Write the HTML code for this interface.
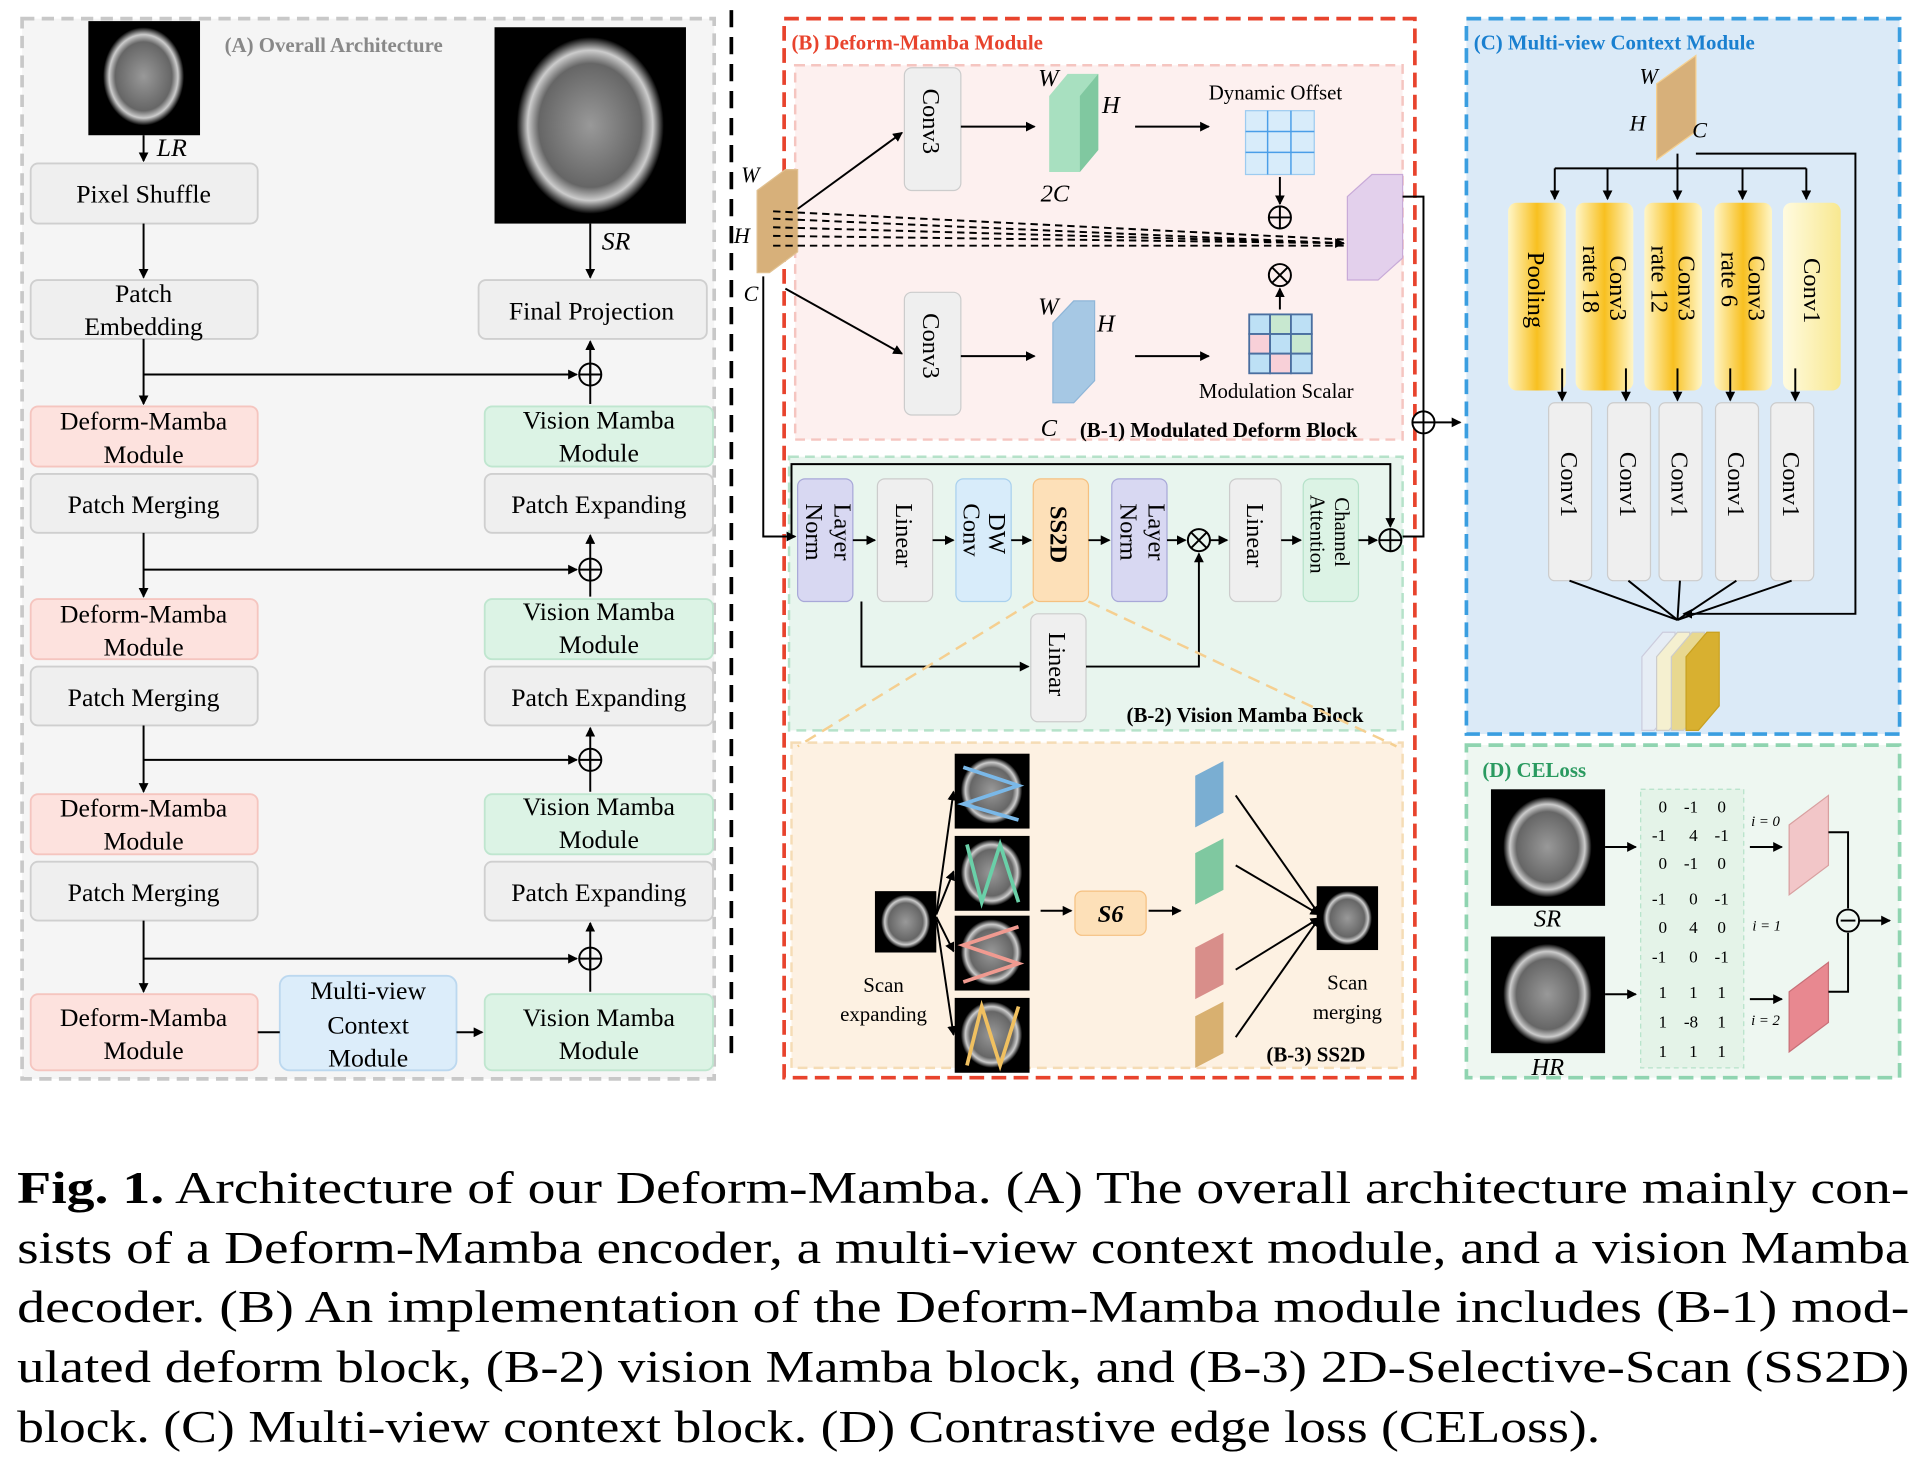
<!DOCTYPE html>
<html><head><meta charset="utf-8"><style>
html,body{margin:0;padding:0;background:#fff}
svg{display:block}
text{font-family:"Liberation Serif",serif}
</style></head><body>
<svg width="1918" height="1462" viewBox="0 0 1563 1191" xmlns="http://www.w3.org/2000/svg">
<defs>
<marker id="a" markerWidth="8" markerHeight="8" refX="7" refY="4" orient="auto" markerUnits="userSpaceOnUse"><path d="M0,0 L8,4 L0,8 z" fill="#000"/></marker>
<radialGradient id="br" cx="50%" cy="50%" r="50%"><stop offset="0" stop-color="#999"/><stop offset="0.7" stop-color="#666"/><stop offset="0.85" stop-color="#ccc"/><stop offset="1" stop-color="#000"/></radialGradient>
<linearGradient id="yg" x1="0" y1="0" x2="1" y2="0"><stop offset="0" stop-color="#fff6c8"/><stop offset="0.5" stop-color="#f8c020"/><stop offset="1" stop-color="#fff6c8"/></linearGradient>
<linearGradient id="yg2" x1="0" y1="0" x2="1" y2="0"><stop offset="0" stop-color="#fffbe0"/><stop offset="1" stop-color="#f8e890"/></linearGradient>
</defs>

<!-- Panel A -->
<rect x="18" y="15" width="564" height="864" fill="#f5f5f5" stroke="#c8c8c8" stroke-width="3" stroke-dasharray="10,6"/>
<text x="183" y="42" font-size="17" font-weight="bold" fill="#888">(A) Overall Architecture</text>
<line x1="596" y1="8" x2="596" y2="866" stroke="#000" stroke-width="3" stroke-dasharray="14,8"/>

<rect x="72" y="17" width="91" height="93" fill="#000"/><ellipse cx="117" cy="62" rx="33" ry="40" fill="url(#br)"/>
<rect x="403" y="22" width="156" height="160" fill="#000"/><ellipse cx="481" cy="102" rx="60" ry="72" fill="url(#br)"/>
<g font-size="21" text-anchor="middle" fill="#000">
<g fill="#efefef" stroke="#cfcfcf" stroke-width="1.5">
<rect x="25" y="133" width="185" height="49" rx="6"/><rect x="25" y="228" width="185" height="48" rx="6"/>
<rect x="25" y="386" width="185" height="48" rx="6"/><rect x="25" y="543" width="185" height="48" rx="6"/><rect x="25" y="702" width="185" height="48" rx="6"/>
<rect x="390" y="228" width="186" height="48" rx="6"/>
<rect x="395" y="386" width="186" height="48" rx="6"/><rect x="395" y="543" width="186" height="48" rx="6"/><rect x="395" y="702" width="186" height="48" rx="6"/>
</g>
<g fill="#fde2de" stroke="#f5c5bf" stroke-width="1.5">
<rect x="25" y="331" width="185" height="49" rx="6"/><rect x="25" y="488" width="185" height="49" rx="6"/><rect x="25" y="647" width="185" height="49" rx="6"/><rect x="25" y="810" width="185" height="62" rx="6"/>
</g>
<g fill="#dcf3e5" stroke="#bfe6cf" stroke-width="1.5">
<rect x="395" y="331" width="186" height="49" rx="6"/><rect x="395" y="488" width="186" height="49" rx="6"/><rect x="395" y="647" width="186" height="49" rx="6"/><rect x="395" y="810" width="186" height="62" rx="6"/>
</g>
<rect x="228" y="795" width="144" height="77" rx="8" fill="#dcedfa" stroke="#bcd8ef" stroke-width="1.5"/>
<text x="117" y="165">Pixel Shuffle</text>
<text x="117" y="246">Patch</text><text x="117" y="273">Embedding</text>
<text x="117" y="350">Deform-Mamba</text><text x="117" y="377">Module</text>
<text x="117" y="418">Patch Merging</text>
<text x="117" y="507">Deform-Mamba</text><text x="117" y="534">Module</text>
<text x="117" y="575">Patch Merging</text>
<text x="117" y="665">Deform-Mamba</text><text x="117" y="692">Module</text>
<text x="117" y="734">Patch Merging</text>
<text x="117" y="836">Deform-Mamba</text><text x="117" y="863">Module</text>
<text x="482" y="260">Final Projection</text>
<text x="488" y="349">Vision Mamba</text><text x="488" y="376">Module</text>
<text x="488" y="418">Patch Expanding</text>
<text x="488" y="505">Vision Mamba</text><text x="488" y="532">Module</text>
<text x="488" y="575">Patch Expanding</text>
<text x="488" y="664">Vision Mamba</text><text x="488" y="691">Module</text>
<text x="488" y="734">Patch Expanding</text>
<text x="488" y="836">Vision Mamba</text><text x="488" y="863">Module</text>
<text x="300" y="814">Multi-view</text><text x="300" y="842">Context</text><text x="300" y="869">Module</text>
<text x="140" y="127" font-style="italic">LR</text>
<text x="502" y="203" font-style="italic">SR</text>
</g>
<g stroke="#000" stroke-width="1.6" fill="none">
<line x1="117" y1="110" x2="117" y2="131" marker-end="url(#a)"/>
<line x1="117" y1="182" x2="117" y2="226" marker-end="url(#a)"/>
<line x1="481" y1="182" x2="481" y2="226" marker-end="url(#a)"/>
<line x1="117" y1="276" x2="117" y2="329" marker-end="url(#a)"/>
<line x1="117" y1="305" x2="470" y2="305" marker-end="url(#a)"/>
<line x1="481" y1="329" x2="481" y2="278" marker-end="url(#a)"/>
<line x1="117" y1="434" x2="117" y2="486" marker-end="url(#a)"/>
<line x1="117" y1="464" x2="470" y2="464" marker-end="url(#a)"/>
<line x1="481" y1="486" x2="481" y2="436" marker-end="url(#a)"/>
<line x1="117" y1="591" x2="117" y2="645" marker-end="url(#a)"/>
<line x1="117" y1="619" x2="470" y2="619" marker-end="url(#a)"/>
<line x1="481" y1="645" x2="481" y2="593" marker-end="url(#a)"/>
<line x1="117" y1="750" x2="117" y2="808" marker-end="url(#a)"/>
<line x1="117" y1="781" x2="470" y2="781" marker-end="url(#a)"/>
<line x1="481" y1="808" x2="481" y2="752" marker-end="url(#a)"/>
<line x1="210" y1="841" x2="228" y2="841"/>
<line x1="372" y1="841" x2="393" y2="841" marker-end="url(#a)"/>
<circle cx="481" cy="305" r="9"/><line x1="472" y1="305" x2="490" y2="305"/><line x1="481" y1="296" x2="481" y2="314"/>
<circle cx="481" cy="464" r="9"/><line x1="472" y1="464" x2="490" y2="464"/><line x1="481" y1="455" x2="481" y2="473"/>
<circle cx="481" cy="619" r="9"/><line x1="472" y1="619" x2="490" y2="619"/><line x1="481" y1="610" x2="481" y2="628"/>
<circle cx="481" cy="781" r="9"/><line x1="472" y1="781" x2="490" y2="781"/><line x1="481" y1="772" x2="481" y2="790"/>
</g>

<!-- Panel B -->
<rect x="639" y="15" width="514" height="863" fill="#fff" stroke="#e8432d" stroke-width="3" stroke-dasharray="12,6"/>
<rect x="648" y="53" width="495" height="305" fill="#fdf0ef" stroke="#f5c5c0" stroke-width="2" stroke-dasharray="8,5"/>
<rect x="643" y="372" width="500" height="223" fill="#e8f5ee" stroke="#b5e2c9" stroke-width="2" stroke-dasharray="8,5"/>
<rect x="645" y="605" width="498" height="265" fill="#fdf1e2" stroke="#f5dcb5" stroke-width="2" stroke-dasharray="8,5"/>
<text x="645" y="40" font-size="17" font-weight="bold" fill="#e8432d">(B) Deform-Mamba Module</text>
<text x="880" y="356" font-size="17" font-weight="bold">(B-1) Modulated Deform Block</text>
<text x="918" y="588" font-size="17" font-weight="bold">(B-2) Vision Mamba Block</text>
<text x="1032" y="865" font-size="17" font-weight="bold">(B-3) SS2D</text>

<polygon points="617,155 640,138 650,138 650,205 627,222 617,222" fill="#d7b07a" stroke="#e0c090"/>
<text x="604" y="148" font-size="18" font-style="italic">W</text>
<text x="598" y="198" font-size="18" font-style="italic">H</text>
<text x="606" y="245" font-size="18" font-style="italic">C</text>
<g font-size="20" fill="#000">
<rect x="737" y="55" width="46" height="100" rx="6" fill="#efefef" stroke="#ccc"/>
<text transform="translate(752,72) rotate(90)">Conv3</text>
<rect x="737" y="238" width="46" height="100" rx="6" fill="#efefef" stroke="#ccc"/>
<text transform="translate(752,255) rotate(90)">Conv3</text>
</g>
<polygon points="855,78 870,60 895,60 895,122 880,140 855,140" fill="#a8e0c0"/><polygon points="880,78 895,60 895,122 880,140" fill="#80c8a0"/>
<text x="846" y="70" font-size="20" font-style="italic">W</text><text x="898" y="92" font-size="20" font-style="italic">H</text><text x="848" y="164" font-size="20" font-style="italic">2C</text>
<polygon points="858,263 875,245 892,245 892,310 875,328 858,328" fill="#a6c8e4" stroke="#8fb6d8"/>
<text x="846" y="256" font-size="20" font-style="italic">W</text><text x="894" y="270" font-size="20" font-style="italic">H</text><text x="848" y="355" font-size="20" font-style="italic">C</text>
<polygon points="1098,160 1118,142 1143,142 1143,210 1123,228 1098,228" fill="#e3d0ec" stroke="#c8aad8"/>
<text x="985" y="81" font-size="17">Dynamic Offset</text>
<rect x="1015" y="90" width="56" height="52" fill="#d8ecfa" stroke="#9ccbf0"/>
<g stroke="#4a9ee8" stroke-width="1.2"><line x1="1033" y1="90" x2="1033" y2="142"/><line x1="1052" y1="90" x2="1052" y2="142"/><line x1="1015" y1="107" x2="1071" y2="107"/><line x1="1015" y1="124" x2="1071" y2="124"/></g>
<text x="977" y="324" font-size="17">Modulation Scalar</text>
<g stroke="#4a6fa0" stroke-width="1.5">
<rect x="1018" y="256" width="17" height="16" fill="#bde0f5"/><rect x="1035" y="256" width="17" height="16" fill="#c8e8d0"/><rect x="1052" y="256" width="17" height="16" fill="#bde0f5"/>
<rect x="1018" y="272" width="17" height="16" fill="#f8d0d8"/><rect x="1035" y="272" width="17" height="16" fill="#bde0f5"/><rect x="1052" y="272" width="17" height="16" fill="#c8e8d0"/>
<rect x="1018" y="288" width="17" height="16" fill="#bde0f5"/><rect x="1035" y="288" width="17" height="16" fill="#f8d0d8"/><rect x="1052" y="288" width="17" height="16" fill="#bde0f5"/>
</g>
<g stroke="#000" stroke-width="1.6" fill="none">
<line x1="650" y1="170" x2="735" y2="108" marker-end="url(#a)"/>
<line x1="640" y1="235" x2="735" y2="288" marker-end="url(#a)"/>
<line x1="783" y1="103" x2="843" y2="103" marker-end="url(#a)"/>
<line x1="783" y1="290" x2="843" y2="290" marker-end="url(#a)"/>
<line x1="925" y1="103" x2="985" y2="103" marker-end="url(#a)"/>
<line x1="925" y1="290" x2="985" y2="290" marker-end="url(#a)"/>
<line x1="1043" y1="144" x2="1043" y2="166" marker-end="url(#a)"/>
<circle cx="1043" cy="177" r="9"/><line x1="1034" y1="177" x2="1052" y2="177"/><line x1="1043" y1="168" x2="1043" y2="186"/>
<circle cx="1043" cy="224" r="9"/><line x1="1037" y1="218" x2="1049" y2="230"/><line x1="1049" y1="218" x2="1037" y2="230"/>
<line x1="1043" y1="252" x2="1043" y2="235" marker-end="url(#a)"/>
<g stroke-dasharray="6,4">
<line x1="630" y1="172" x2="1095" y2="195"/><line x1="630" y1="178" x2="1095" y2="198"/><line x1="630" y1="185" x2="1095" y2="198"/><line x1="630" y1="192" x2="1095" y2="198" marker-end="url(#a)"/><line x1="630" y1="200" x2="1095" y2="200"/>
</g>
<polyline points="1143,160 1160,160 1160,437 1143,437"/>
<circle cx="1160" cy="344" r="9" fill="#fff"/><line x1="1151" y1="344" x2="1169" y2="344"/><line x1="1160" y1="335" x2="1160" y2="353"/>
<line x1="1169" y1="344" x2="1190" y2="344" marker-end="url(#a)"/>
<polyline points="622,225 622,437 648,437" marker-end="url(#a)"/>
</g>

<!-- B-2 blocks -->
<g font-size="20" fill="#000">
<rect x="650" y="390" width="45" height="100" rx="6" fill="#d8d8f2" stroke="#a8a8d8"/><text transform="translate(680,410) rotate(90)">Layer</text><text transform="translate(657,410) rotate(90)">Norm</text>
<rect x="715" y="390" width="45" height="100" rx="6" fill="#efefef" stroke="#ccc"/><text transform="translate(730,410) rotate(90)">Linear</text>
<rect x="779" y="390" width="45" height="100" rx="6" fill="#d8ecfa" stroke="#a8d0ee"/><text transform="translate(806,418) rotate(90)">DW</text><text transform="translate(785,410) rotate(90)">Conv</text>
<rect x="842" y="390" width="45" height="100" rx="6" fill="#fde0b8" stroke="#f5c080"/><text transform="translate(856,412) rotate(90)" font-weight="bold">SS2D</text>
<rect x="906" y="390" width="45" height="100" rx="6" fill="#d8d8f2" stroke="#a8a8d8"/><text transform="translate(936,410) rotate(90)">Layer</text><text transform="translate(913,410) rotate(90)">Norm</text>
<rect x="1002" y="390" width="42" height="100" rx="6" fill="#efefef" stroke="#ccc"/><text transform="translate(1016,410) rotate(90)">Linear</text>
<rect x="1062" y="390" width="45" height="100" rx="6" fill="#dcf3e5" stroke="#b5e2c9"/><g font-size="17"><text transform="translate(1088,405) rotate(90)">Channel</text><text transform="translate(1068,403) rotate(90)">Attention</text></g>
<rect x="840" y="500" width="45" height="88" rx="6" fill="#efefef" stroke="#ccc"/><text transform="translate(855,515) rotate(90)">Linear</text>
</g>
<g stroke="#000" stroke-width="1.6" fill="none">
<line x1="695" y1="440" x2="713" y2="440" marker-end="url(#a)"/>
<line x1="760" y1="440" x2="777" y2="440" marker-end="url(#a)"/>
<line x1="824" y1="440" x2="840" y2="440" marker-end="url(#a)"/>
<line x1="887" y1="440" x2="904" y2="440" marker-end="url(#a)"/>
<line x1="951" y1="440" x2="966" y2="440" marker-end="url(#a)"/>
<circle cx="977" cy="440" r="9"/><line x1="971" y1="434" x2="983" y2="446"/><line x1="983" y1="434" x2="971" y2="446"/>
<line x1="986" y1="440" x2="1000" y2="440" marker-end="url(#a)"/>
<line x1="1044" y1="440" x2="1060" y2="440" marker-end="url(#a)"/>
<line x1="1107" y1="440" x2="1122" y2="440" marker-end="url(#a)"/>
<circle cx="1133" cy="440" r="9"/><line x1="1124" y1="440" x2="1142" y2="440"/><line x1="1133" y1="431" x2="1133" y2="449"/>
<polyline points="645,437 645,378 1133,378 1133,429" marker-end="url(#a)"/>
<polyline points="702,490 702,543 838,543" marker-end="url(#a)"/>
<polyline points="885,543 977,543 977,451" marker-end="url(#a)"/>
</g>
<g stroke="#f5cf90" stroke-width="2" stroke-dasharray="10,6"><line x1="842" y1="490" x2="650" y2="608"/><line x1="887" y1="490" x2="1138" y2="608"/></g>

<!-- B-3 -->
<rect x="713" y="726" width="50" height="50" fill="#000"/><ellipse cx="738" cy="751" rx="20" ry="22" fill="url(#br)"/>
<g>
<rect x="778" y="614" width="61" height="61" fill="#000"/><ellipse cx="808" cy="644" rx="25" ry="27" fill="url(#br)"/><path d="M785,625 L830,640 L785,655 L830,668" stroke="#7ab8e8" stroke-width="3" fill="none"/>
<rect x="778" y="681" width="61" height="61" fill="#000"/><ellipse cx="808" cy="711" rx="25" ry="27" fill="url(#br)"/><path d="M788,688 L800,735 L815,688 L830,735" stroke="#6ad0a8" stroke-width="3" fill="none"/>
<rect x="778" y="746" width="61" height="61" fill="#000"/><ellipse cx="808" cy="776" rx="25" ry="27" fill="url(#br)"/><path d="M830,755 L785,770 L830,785 L785,800" stroke="#f09a90" stroke-width="3" fill="none"/>
<rect x="778" y="813" width="61" height="61" fill="#000"/><ellipse cx="808" cy="843" rx="25" ry="27" fill="url(#br)"/><path d="M788,868 L800,820 L815,868 L830,820" stroke="#f0c060" stroke-width="3" fill="none"/>
</g>
<rect x="1073" y="722" width="50" height="52" fill="#000"/><ellipse cx="1098" cy="748" rx="20" ry="22" fill="url(#br)"/>
<rect x="876" y="726" width="58" height="36" rx="6" fill="#fde0b8" stroke="#f5c080"/>
<text x="905" y="751" font-size="20" font-weight="bold" font-style="italic" text-anchor="middle">S6</text>
<g font-size="17" text-anchor="middle"><text x="720" y="808">Scan</text><text x="720" y="832">expanding</text><text x="1098" y="806">Scan</text><text x="1098" y="830">merging</text></g>
<polygon points="974,632 997,620 997,662 974,674" fill="#7aaed2"/>
<polygon points="974,695 997,683 997,725 974,737" fill="#7fc8a0"/>
<polygon points="974,772 997,760 997,802 974,814" fill="#d88e8a"/>
<polygon points="974,828 997,816 997,858 974,870" fill="#d8b070"/>
<g stroke="#000" stroke-width="1.6" fill="none">
<polyline points="763,745 777,645" marker-end="url(#a)"/><line x1="763" y1="745" x2="777" y2="710" marker-end="url(#a)"/><line x1="763" y1="747" x2="777" y2="775" marker-end="url(#a)"/><line x1="763" y1="749" x2="777" y2="843" marker-end="url(#a)"/>
<line x1="848" y1="742" x2="873" y2="742" marker-end="url(#a)"/>
<line x1="936" y1="742" x2="962" y2="742" marker-end="url(#a)"/>
<line x1="1007" y1="648" x2="1075" y2="745" marker-end="url(#a)"/>
<line x1="1007" y1="705" x2="1075" y2="745" marker-end="url(#a)"/>
<line x1="1007" y1="790" x2="1075" y2="748" marker-end="url(#a)"/>
<line x1="1007" y1="845" x2="1075" y2="748" marker-end="url(#a)"/>
</g>

<!-- Panel C -->
<rect x="1195" y="15" width="353" height="583" fill="#dbeaf7" stroke="#3a9ee0" stroke-width="3" stroke-dasharray="12,6"/>
<text x="1201" y="40" font-size="17" font-weight="bold" fill="#1a80d0">(C) Multi-view Context Module</text>
<polygon points="1350,68 1382,45 1382,107 1350,130" fill="#d7b07a" stroke="#f5d090"/>
<text x="1336" y="68" font-size="18" font-style="italic">W</text><text x="1328" y="106" font-size="18" font-style="italic">H</text><text x="1379" y="112" font-size="18" font-style="italic">C</text>
<g font-size="20">
<rect x="1229" y="165" width="47" height="153" rx="7" fill="url(#yg)"/><text transform="translate(1245,205) rotate(90)">Pooling</text>
<rect x="1284" y="165" width="47" height="153" rx="7" fill="url(#yg)"/><text transform="translate(1312,208) rotate(90)">Conv3</text><text transform="translate(1290,200) rotate(90)">rate 18</text>
<rect x="1340" y="165" width="47" height="153" rx="7" fill="url(#yg)"/><text transform="translate(1368,208) rotate(90)">Conv3</text><text transform="translate(1346,200) rotate(90)">rate 12</text>
<rect x="1397" y="165" width="47" height="153" rx="7" fill="url(#yg)"/><text transform="translate(1425,208) rotate(90)">Conv3</text><text transform="translate(1403,205) rotate(90)">rate 6</text>
<rect x="1453" y="165" width="47" height="153" rx="7" fill="url(#yg2)"/><text transform="translate(1470,210) rotate(90)">Conv1</text>
<rect x="1262" y="328" width="35" height="145" rx="5" fill="#efefef" stroke="#ccc"/><text transform="translate(1272,368) rotate(90)">Conv1</text>
<rect x="1310" y="328" width="35" height="145" rx="5" fill="#efefef" stroke="#ccc"/><text transform="translate(1320,368) rotate(90)">Conv1</text>
<rect x="1352" y="328" width="35" height="145" rx="5" fill="#efefef" stroke="#ccc"/><text transform="translate(1362,368) rotate(90)">Conv1</text>
<rect x="1398" y="328" width="35" height="145" rx="5" fill="#efefef" stroke="#ccc"/><text transform="translate(1408,368) rotate(90)">Conv1</text>
<rect x="1443" y="328" width="35" height="145" rx="5" fill="#efefef" stroke="#ccc"/><text transform="translate(1453,368) rotate(90)">Conv1</text>
</g>
<g stroke="#000" stroke-width="1.6" fill="none">
<line x1="1367" y1="125" x2="1367" y2="162" marker-end="url(#a)"/>
<line x1="1267" y1="137" x2="1472" y2="137"/>
<line x1="1267" y1="137" x2="1267" y2="162" marker-end="url(#a)"/>
<line x1="1310" y1="137" x2="1310" y2="162" marker-end="url(#a)"/>
<line x1="1420" y1="137" x2="1420" y2="162" marker-end="url(#a)"/>
<line x1="1472" y1="137" x2="1472" y2="162" marker-end="url(#a)"/>
<polyline points="1382,125 1512,125 1512,500 1372,500" marker-end="url(#a)"/>
<line x1="1273" y1="300" x2="1273" y2="326" marker-end="url(#a)"/>
<line x1="1325" y1="300" x2="1325" y2="326" marker-end="url(#a)"/>
<line x1="1367" y1="300" x2="1367" y2="326" marker-end="url(#a)"/>
<line x1="1410" y1="300" x2="1410" y2="326" marker-end="url(#a)"/>
<line x1="1463" y1="300" x2="1463" y2="326" marker-end="url(#a)"/>
<line x1="1279" y1="473" x2="1367" y2="505"/><line x1="1327" y1="473" x2="1367" y2="505"/><line x1="1369" y1="473" x2="1367" y2="505"/><line x1="1415" y1="473" x2="1367" y2="505"/><line x1="1460" y1="473" x2="1367" y2="505"/>
</g>
<g>
<polygon points="1338,535 1355,515 1365,515 1365,575 1348,595 1338,595" fill="#e6edf5" stroke="#ccd"/>
<polygon points="1350,535 1367,515 1377,515 1377,575 1360,595 1350,595" fill="#f5f0d0" stroke="#ccc"/>
<polygon points="1362,535 1379,515 1389,515 1389,575 1372,595 1362,595" fill="#e8d890" stroke="#ccc"/>
<polygon points="1374,535 1391,515 1401,515 1401,575 1384,595 1374,595" fill="#d8b030" stroke="#c8a020"/>
</g>

<!-- Panel D -->
<rect x="1195" y="607" width="353" height="271" fill="#eef7f1" stroke="#8fd4b0" stroke-width="3" stroke-dasharray="12,6"/>
<text x="1208" y="633" font-size="17" font-weight="bold" fill="#2a9a60">(D) CELoss</text>
<rect x="1215" y="643" width="93" height="95" fill="#000"/><ellipse cx="1261" cy="690" rx="36" ry="41" fill="url(#br)"/>
<rect x="1215" y="763" width="93" height="95" fill="#000"/><ellipse cx="1261" cy="810" rx="36" ry="41" fill="url(#br)"/>
<text x="1250" y="755" font-size="20" font-style="italic">SR</text>
<text x="1248" y="876" font-size="20" font-style="italic">HR</text>
<rect x="1337" y="643" width="84" height="227" fill="#e4f3e8" stroke="#b5e2c9" stroke-dasharray="4,3"/>
<g font-size="14" text-anchor="middle">
<text x="1355" y="662">0</text><text x="1378" y="662">-1</text><text x="1403" y="662">0</text>
<text x="1352" y="685">-1</text><text x="1380" y="685">4</text><text x="1403" y="685">-1</text>
<text x="1355" y="708">0</text><text x="1378" y="708">-1</text><text x="1403" y="708">0</text>
<text x="1352" y="737">-1</text><text x="1380" y="737">0</text><text x="1403" y="737">-1</text>
<text x="1355" y="760">0</text><text x="1380" y="760">4</text><text x="1403" y="760">0</text>
<text x="1352" y="784">-1</text><text x="1380" y="784">0</text><text x="1403" y="784">-1</text>
<text x="1355" y="813">1</text><text x="1380" y="813">1</text><text x="1403" y="813">1</text>
<text x="1355" y="837">1</text><text x="1378" y="837">-8</text><text x="1403" y="837">1</text>
<text x="1355" y="861">1</text><text x="1380" y="861">1</text><text x="1403" y="861">1</text>
</g>
<g font-size="12" font-style="italic"><text x="1427" y="673">i = 0</text><text x="1428" y="758">i = 1</text><text x="1427" y="835">i = 2</text></g>
<polygon points="1458,672 1490,648 1490,705 1458,729" fill="#f2c6c8" stroke="#d8a0a0"/>
<polygon points="1458,808 1490,784 1490,833 1458,857" fill="#e88890" stroke="#c87078"/>
<g stroke="#000" stroke-width="1.6" fill="none">
<line x1="1308" y1="690" x2="1333" y2="690" marker-end="url(#a)"/>
<line x1="1308" y1="810" x2="1333" y2="810" marker-end="url(#a)"/>
<line x1="1426" y1="690" x2="1452" y2="690" marker-end="url(#a)"/>
<line x1="1426" y1="814" x2="1452" y2="814" marker-end="url(#a)"/>
<polyline points="1490,678 1506,678 1506,740"/>
<polyline points="1490,808 1506,808 1506,760"/>
<circle cx="1506" cy="750" r="9"/><line x1="1500" y1="750" x2="1512" y2="750"/>
<line x1="1515" y1="750" x2="1540" y2="750" marker-end="url(#a)"/>
</g>

<!-- Caption -->
<g font-size="37" fill="#000">
<text x="14" y="980" textLength="1542" lengthAdjust="spacingAndGlyphs"><tspan font-weight="bold">Fig. 1.</tspan> Architecture of our Deform-Mamba. (A) The overall architecture mainly con-</text>
<text x="14" y="1029" textLength="1542" lengthAdjust="spacingAndGlyphs">sists of a Deform-Mamba encoder, a multi-view context module, and a vision Mamba</text>
<text x="14" y="1077" textLength="1542" lengthAdjust="spacingAndGlyphs">decoder. (B) An implementation of the Deform-Mamba module includes (B-1) mod-</text>
<text x="14" y="1126" textLength="1542" lengthAdjust="spacingAndGlyphs">ulated deform block, (B-2) vision Mamba block, and (B-3) 2D-Selective-Scan (SS2D)</text>
<text x="14" y="1175" textLength="1290" lengthAdjust="spacingAndGlyphs">block. (C) Multi-view context block. (D) Contrastive edge loss (CELoss).</text>
</g>
</svg>
</body></html>
